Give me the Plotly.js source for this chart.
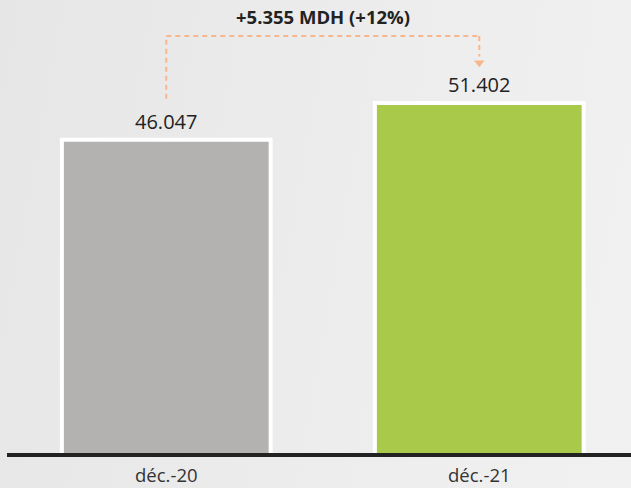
<!DOCTYPE html>
<html>
<head>
<meta charset="utf-8">
<script src="https://cdn.plot.ly/plotly-3.0.1.min.js"></script>
<style>
html,body{margin:0;padding:0;}
body{width:631px;height:488px;background:linear-gradient(100deg,#e6e6e6 0%,#ececec 50%,#f1f1f1 100%);}
#chart{width:631px;height:488px;}
</style>
</head>
<body>
<div id="chart"></div>
<script>
const categories = ["déc.-20", "déc.-21"];
const values = [46.047, 51.402];
const valueLabels = ["46.047", "51.402"];
const colors = ["#b3b2b0", "#a9c94a"];
const deltaLabel = "+5.355 MDH (+12%)";

const x = [0, 1];
const fontFam = "'Open Sans', 'Noto Sans', sans-serif";
const dashColor = "#f7b78c";
const topY = Math.max(...values) + 9.8;

const traces = [{
  type: "bar",
  x: x,
  y: values,
  marker: {color: colors, line: {color: "#ffffff", width: 4}},
  hoverinfo: "none",
  showlegend: false
}, {
  type: "scatter",
  mode: "markers",
  x: [1],
  y: [values[1] + 5.9],
  marker: {symbol: "triangle-down", size: 9, color: dashColor},
  hoverinfo: "none",
  showlegend: false
}];

const annotations = values.map((v, i) => ({
  x: x[i], y: v, xref: "x", yref: "y",
  text: valueLabels[i], showarrow: false,
  yanchor: "bottom", yshift: 3,
  font: {family: fontFam, size: 20, color: "#222222"}
}));
annotations.push({
  x: 0.5, xref: "x", y: 1.0069, yref: "paper",
  text: "<b>" + deltaLabel + "</b>", showarrow: false,
  yanchor: "middle",
  font: {family: fontFam, size: 18.5, color: "#222222"}
});

const dash = {color: dashColor, width: 2, dash: "5px,4px"};
const shapes = [
  {type: "line", xref: "x", yref: "y", x0: 0, x1: 0, y0: values[0] + 6, y1: topY, line: dash},
  {type: "line", xref: "x", yref: "y", x0: 0, x1: 1, y0: topY, y1: topY, line: dash},
  {type: "line", xref: "x", yref: "y", x0: 1, x1: 1, y0: topY, y1: values[1] + 6.8, line: dash},
  {type: "line", xref: "paper", yref: "paper", x0: 0, x1: 1, y0: 0, y1: 0, line: {color: "#222222", width: 4}, layer: "above"}
];

const layout = {
  width: 631, height: 488,
  margin: {l: 7, r: 0, t: 20, b: 33},
  paper_bgcolor: "rgba(0,0,0,0)",
  plot_bgcolor: "rgba(0,0,0,0)",
  bargap: 0.333,
  xaxis: {
    range: [-0.5088, 1.4847],
    tickvals: x, ticktext: categories,
    showgrid: false, zeroline: false, showline: false,
    ticks: "", ticklen: 0,
    ticklabelstandoff: 7,
    tickfont: {family: fontFam, size: 18.5, color: "#333333"},
    fixedrange: true
  },
  yaxis: {
    range: [0, 63.53],
    visible: false, showgrid: false, zeroline: false, fixedrange: true
  },
  annotations: annotations,
  shapes: shapes,
  showlegend: false
};

Plotly.newPlot("chart", traces, layout, {displayModeBar: false, staticPlot: true});
</script>
</body>
</html>
